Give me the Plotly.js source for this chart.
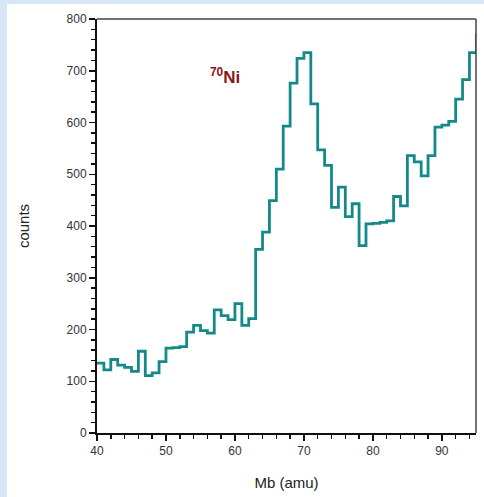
<!DOCTYPE html>
<html>
<head>
<meta charset="utf-8">
<script src="https://cdn.plot.ly/plotly-3.0.1.min.js"></script>
<style>
  html, body { margin: 0; padding: 0; width: 484px; height: 497px; overflow: hidden; background: #d6e6f6; }
  #chart { position: absolute; left: 7px; top: 4px; width: 477px; height: 493px; background: #fff; }
</style>
</head>
<body>
<div id="chart"></div>
<script>
// Bin lower edges (amu) and counts
const binEdges = [40,41,42,43,44,45,46,47,48,49,50,51,52,53,54,55,56,57,58,59,
                  60,61,62,63,64,65,66,67,68,69,70,71,72,73,74,75,76,77,78,79,
                  80,81,82,83,84,85,86,87,88,89,90,91,92,93,94,95];
const counts = [135,122,142,131,127,119,158,111,116,138,164,165,167,195,208,198,193,238,227,219,
                250,208,221,355,388,449,510,593,676,724,735,636,547,517,436,475,418,443,362,404,
                405,407,410,457,439,536,524,497,536,591,595,602,645,683,735,772];
const xTickVals = [40,50,60,70,80,90];
const xTickText = ["40","50","60","70","80","90"];
const yTickVals = [0,100,200,300,400,500,600,700,800];
const yTickText = ["0","100","200","300","400","500","600","700","800"];
const labelText = "<sup>70</sup>Ni";

const trace = {
  x: binEdges,
  y: counts,
  type: 'scatter',
  mode: 'lines',
  line: { shape: 'hv', color: '#138a88', width: 2.8 },
  hoverinfo: 'none'
};

const axisFont = { family: 'Liberation Sans, Arial, sans-serif', size: 12, color: '#333' };

const layout = {
  width: 477,
  height: 493,
  margin: { l: 90, r: 8, t: 15, b: 64 },
  paper_bgcolor: '#ffffff',
  plot_bgcolor: '#ffffff',
  showlegend: false,
  xaxis: {
    range: [40, 94.95],
    tickmode: 'array',
    tickvals: xTickVals,
    ticktext: xTickText,
    ticks: 'outside',
    ticklen: 6,
    tickwidth: 1.5,
    tickcolor: '#111',
    minor: { dtick: 2, ticks: 'outside', ticklen: 4, tickwidth: 1.5, tickcolor: '#111' },
    showline: true,
    linecolor: '#111',
    linewidth: 2,
    mirror: false,
    showgrid: false,
    zeroline: false,
    tickfont: axisFont,
    title: { text: 'Mb (amu)', font: { family: 'Liberation Sans, Arial, sans-serif', size: 15, color: '#222' }, standoff: 20 }
  },
  yaxis: {
    range: [0, 800],
    tickmode: 'array',
    tickvals: yTickVals,
    ticktext: yTickText,
    ticks: 'outside',
    ticklen: 6,
    tickwidth: 1.5,
    tickcolor: '#111',
    minor: { dtick: 20, ticks: 'outside', ticklen: 4, tickwidth: 1.5, tickcolor: '#111' },
    showline: true,
    linecolor: '#111',
    linewidth: 2,
    showgrid: false,
    zeroline: false,
    tickfont: axisFont,
    title: { text: 'counts', font: { family: 'Liberation Sans, Arial, sans-serif', size: 15, color: '#222' }, standoff: 33 }
  },
  shapes: [
    { type: 'line', xref: 'paper', yref: 'paper', x0: 0, x1: 1, y0: 1, y1: 1, line: { color: '#444', width: 1.5 } },
    { type: 'line', xref: 'paper', yref: 'paper', x0: 1, x1: 1, y0: 0, y1: 1, line: { color: '#444', width: 1.5 } }
  ],
  annotations: [
    {
      x: 58.5, y: 690, xref: 'x', yref: 'y',
      text: labelText,
      showarrow: false,
      font: { family: 'Liberation Sans, Arial, sans-serif', size: 17, color: '#8b1414', weight: 'bold' }
    }
  ]
};

Plotly.newPlot('chart', [trace], layout, { displayModeBar: false, staticPlot: true });
</script>
</body>
</html>
